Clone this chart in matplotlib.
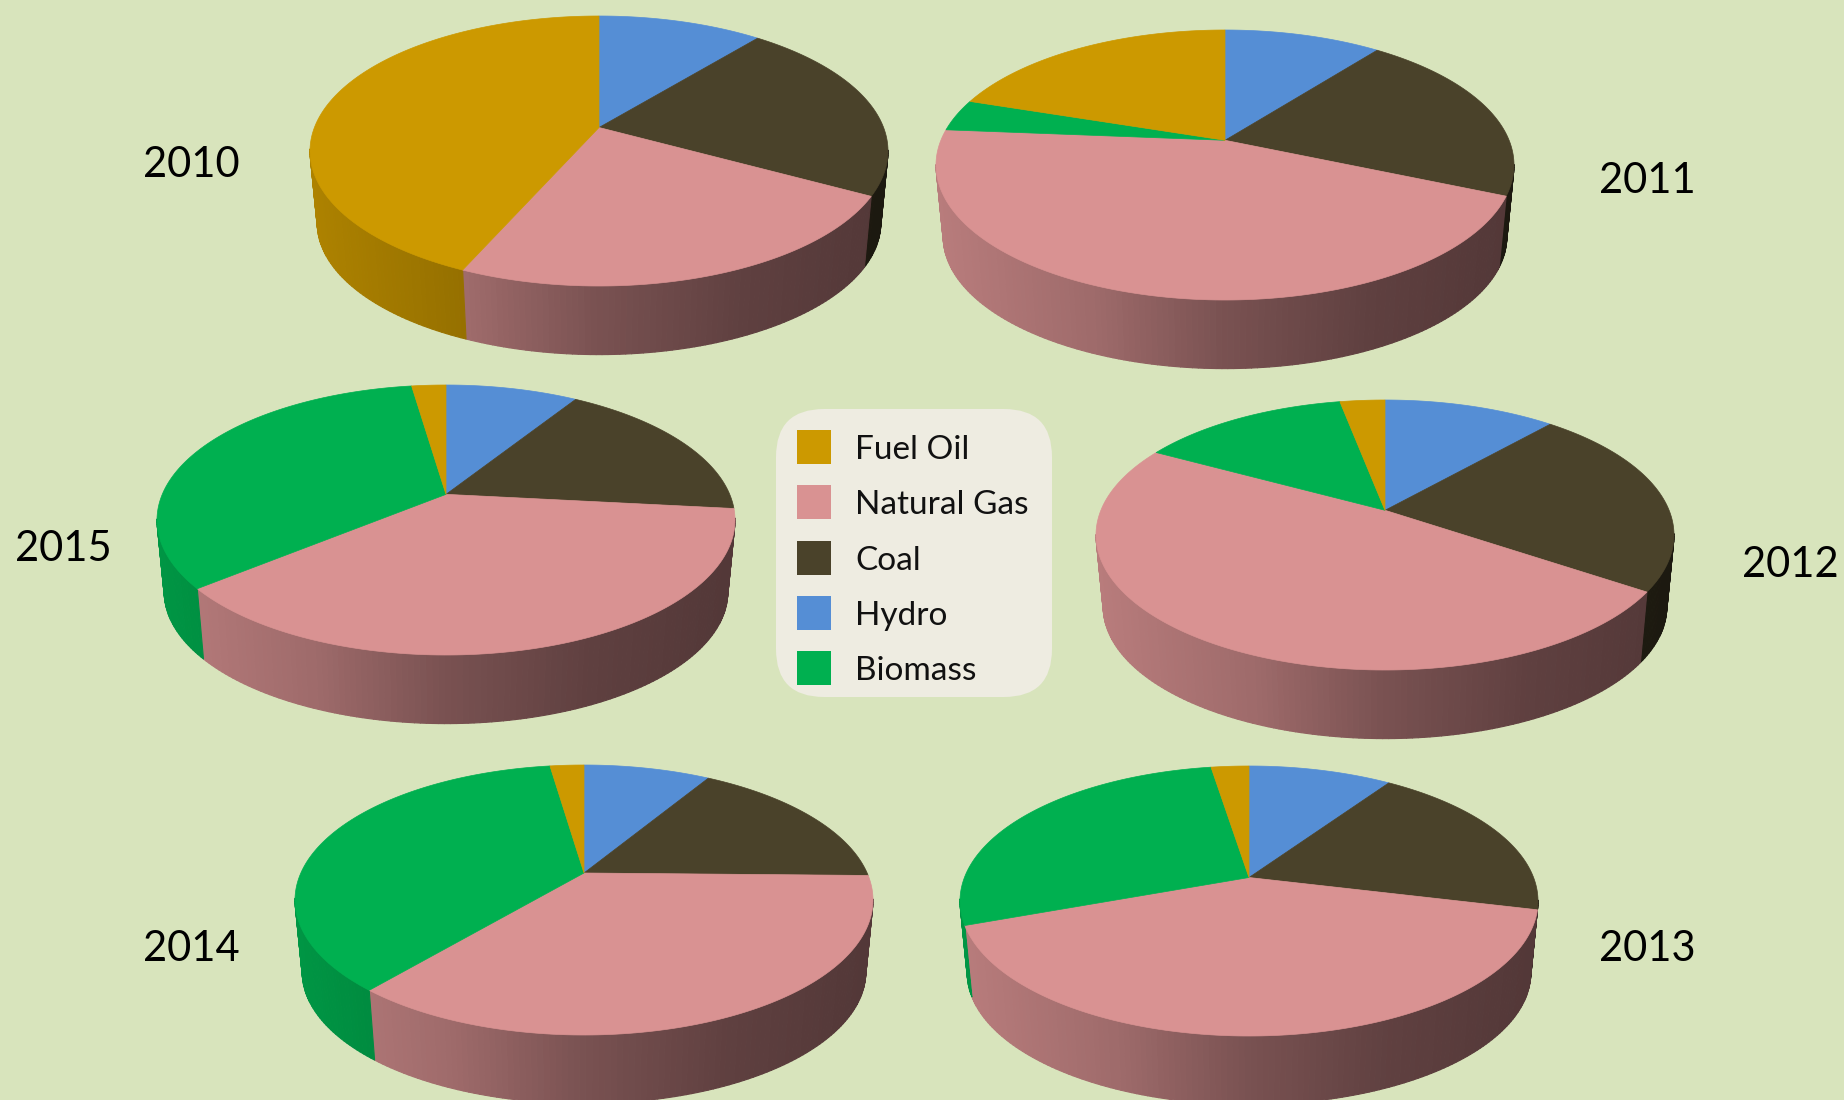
import matplotlib
matplotlib.use('Agg')
import matplotlib.pyplot as plt
import numpy as np
from matplotlib.collections import PolyCollection
from matplotlib.patches import FancyBboxPatch, Rectangle

plt.rcParams['font.family'] = ['Lato', 'DejaVu Sans']

# shares in percent, clockwise from the top
sources = ['Hydro', 'Coal', 'Natural Gas', 'Biomass', 'Fuel Oil']
y2010 = [10.9, 22.1, 23.6, 0.0, 43.4]
y2011 = [10.5, 21.0, 44.8, 3.8, 19.9]
y2012 = [11.5, 23.0, 48.5, 14.0, 3.0]
y2013 = [9.5, 19.3, 40.6, 28.1, 2.5]
y2014 = [8.6, 16.7, 35.8, 36.6, 2.3]
y2015 = [8.9, 17.8, 37.3, 33.7, 2.3]

legend_order = ['Fuel Oil', 'Natural Gas', 'Coal', 'Hydro', 'Biomass']
colors = {'Fuel Oil': '#CC9900', 'Natural Gas': '#D99292', 'Coal': '#4A422A',
          'Hydro': '#558ED5', 'Biomass': '#00B050'}

BG = '#D8E4BC'
A, B = 289, 135      # top face half axes in pixels
DROP = 72            # how far the bottom ellipse sits below the top one
SHRINK = 0.975       # bottom ellipse is a bit smaller

fig = plt.figure(figsize=(18.44, 11), dpi=100, facecolor=BG)
ax = fig.add_axes([0, 0, 1, 1])
ax.set_xlim(0, 1844)
ax.set_ylim(1100, 0)
ax.axis('off')


def project(theta, k):
    # k is the perspective, it pushes the pie centre up inside the ellipse
    u, v = np.sin(theta), np.cos(theta)
    return u * np.sqrt(1 - k ** 2) / (1 + k * v), (v + k) / (1 + k * v)


def shade(base, x):
    m = np.interp(x, [-1, -0.45, 0, 0.5, 1], [0.85, 0.73, 0.56, 0.44, 0.38])
    return tuple(np.array(matplotlib.colors.to_rgb(base)) * m)


def draw_pie(cx, cy, k, values):
    edges = np.radians(np.cumsum([0] + values) * 360 / sum(values))
    quads, quad_cols = [], []
    faces = []
    for i, name in enumerate(sources):
        if values[i] == 0:
            continue
        n = max(int(np.degrees(edges[i + 1] - edges[i])), 2) + 1
        X, Y = project(np.linspace(edges[i], edges[i + 1], n), k)
        tx, ty = cx + A * X, cy - B * Y
        bx, by = cx + A * SHRINK * X, cy + DROP - B * SHRINK * Y
        for j in range(n - 1):
            if Y[j] < 0.0 or Y[j + 1] < 0.0:
                quads.append([(tx[j], ty[j]), (tx[j + 1], ty[j + 1]),
                              (bx[j + 1], by[j + 1]), (bx[j], by[j])])
                quad_cols.append(shade(colors[name], X[j]))
        faces.append((np.r_[cx, tx], np.r_[cy - B * k, ty], colors[name]))
    ax.add_collection(PolyCollection(quads, facecolors=quad_cols, edgecolors=quad_cols,
                                     linewidths=0.8, zorder=2))
    for fx, fy, c in faces:
        ax.fill(fx, fy, color=c, lw=0.5, zorder=3)


draw_pie(599, 151, 0.174, y2010)
draw_pie(1225, 165, 0.183, y2011)
draw_pie(1385, 535, 0.183, y2012)
draw_pie(1249, 901, 0.174, y2013)
draw_pie(584, 900, 0.2, y2014)
draw_pie(446, 520, 0.19, y2015)

year_labels = ['2010', '2011', '2012', '2013', '2014', '2015']
label_x = [191, 1647, 1790, 1647, 191, 63]
label_y = [165, 181, 565, 949, 949, 549]
for t, x, y in zip(year_labels, label_x, label_y):
    ax.text(x, y, t, fontsize=30, color='black', ha='center', va='center', zorder=5)

# legend box
ax.add_patch(FancyBboxPatch((776 + 48, 409 + 48), 276 - 96, 288 - 96,
                            boxstyle='round,pad=48,rounding_size=48',
                            fc='#EEECE1', ec='none', zorder=4))
swatch_y = [430, 485, 541, 596, 651]
for name, y in zip(legend_order, swatch_y):
    ax.add_patch(Rectangle((797, y), 34, 34, fc=colors[name], ec='none', zorder=5))
    ax.text(855, y + 20, name, fontsize=24, color='#111111', va='center', zorder=5)

fig.savefig('out.png', dpi=100, facecolor=BG)
